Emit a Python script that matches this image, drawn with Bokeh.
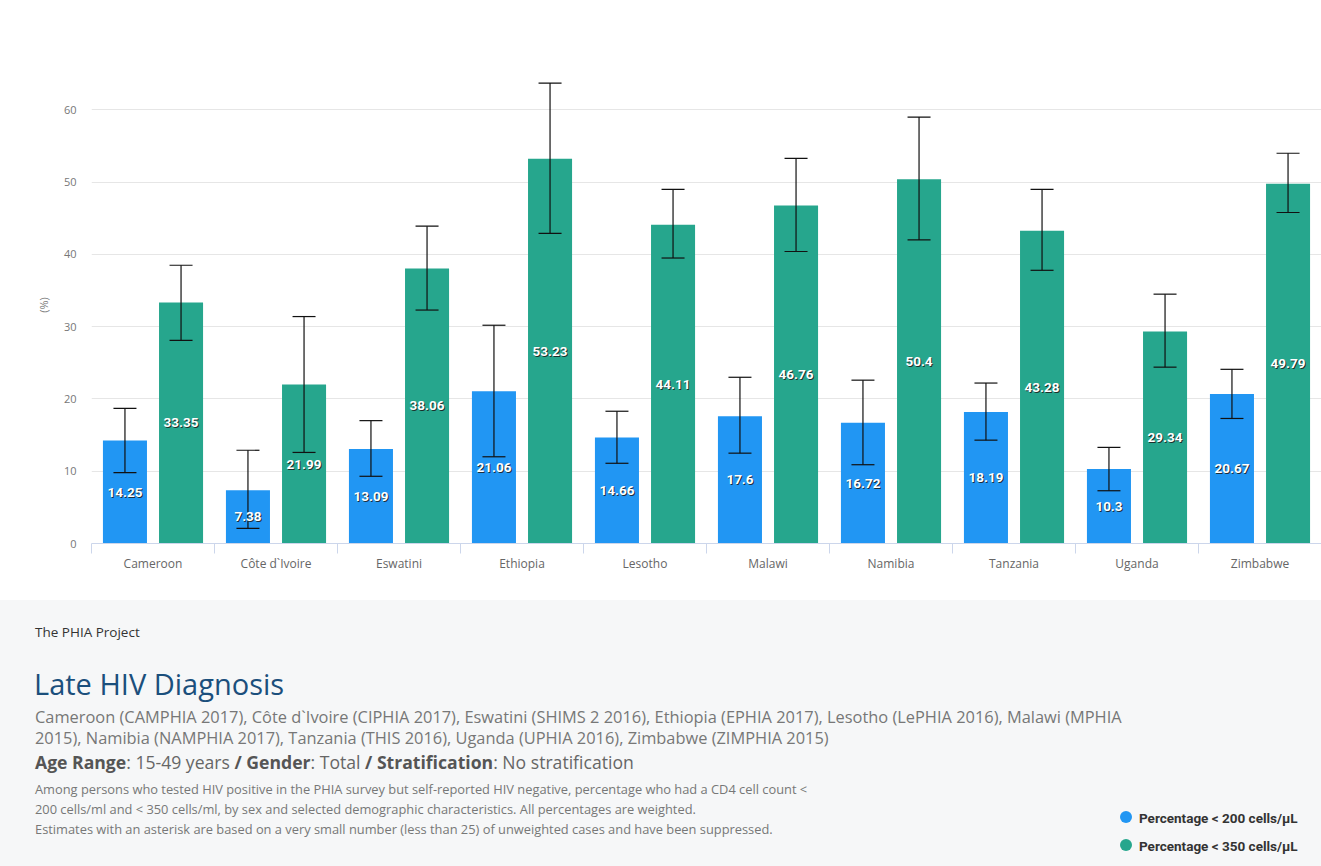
from bokeh.plotting import figure
from bokeh.models import (ColumnDataSource, Range1d, FixedTicker, Whisker, TeeHead, Div)
from bokeh.layouts import column
from bokeh.core.properties import value
from bokeh.embed import file_html
from bokeh.resources import INLINE

# ---------------- data ----------------
countries = ["Cameroon", "Côte d`Ivoire", "Eswatini", "Ethiopia", "Lesotho",
             "Malawi", "Namibia", "Tanzania", "Uganda", "Zimbabwe"]
pct200 = [14.25, 7.38, 13.09, 21.06, 14.66, 17.6, 16.72, 18.19, 10.3, 20.67]
pct350 = [33.35, 21.99, 38.06, 53.23, 44.11, 46.76, 50.4, 43.28, 29.34, 49.79]
lo200 = [9.8, 2.1, 9.3, 12.0, 11.1, 12.5, 10.9, 14.3, 7.3, 17.3]
hi200 = [18.7, 12.9, 17.0, 30.2, 18.3, 23.0, 22.6, 22.2, 13.3, 24.1]
lo350 = [28.1, 12.6, 32.3, 42.9, 39.5, 40.4, 42.0, 37.8, 24.4, 45.8]
hi350 = [38.5, 31.4, 43.9, 63.7, 49.0, 53.3, 59.0, 49.0, 34.5, 54.0]
y_ticks = [0, 10, 20, 30, 40, 50, 60]
series_names = ["Percentage < 200 cells/μL", "Percentage < 350 cells/μL"]

title_text = "Late HIV Diagnosis"
subtitle_text = ("Cameroon (CAMPHIA 2017), Côte d`Ivoire (CIPHIA 2017), Eswatini (SHIMS 2 2016), "
                 "Ethiopia (EPHIA 2017), Lesotho (LePHIA 2016), Malawi (MPHIA<br>"
                 "2015), Namibia (NAMPHIA 2017), Tanzania (THIS 2016), Uganda (UPHIA 2016), "
                 "Zimbabwe (ZIMPHIA 2015)")
desc_lines = [
    "Among persons who tested HIV positive in the PHIA survey but self-reported HIV negative, "
    "percentage who had a CD4 cell count &lt;",
    "200 cells/ml and &lt; 350 cells/ml, by sex and selected demographic characteristics. "
    "All percentages are weighted.",
    "Estimates with an asterisk are based on a very small number (less than 25) of unweighted "
    "cases and have been suppressed.",
]

BLUE = "#2196f3"
GREEN = "#26a68d"
PANEL = "#f6f7f8"
FONT = "Open Sans"

n = len(countries)
idx = list(range(n))
off = 0.228
bw = 0.358

src = ColumnDataSource(dict(
    x200=[i - off for i in idx], x350=[i + off for i in idx],
    v200=pct200, v350=pct350,
    lo200=lo200, hi200=hi200, lo350=lo350, hi350=hi350,
    m200=[v / 2 for v in pct200], m350=[v / 2 for v in pct350],
    t200=[f"{v:g}" for v in pct200], t350=[f"{v:g}" for v in pct350],
))

FL, FT, FW, FH = 91, 66, 1230, 477
p = figure(frame_width=FW, frame_height=FH,
           x_range=Range1d(-0.5, n - 0.5), y_range=Range1d(0, 66),
           output_backend="svg", toolbar_location=None,
           min_border_left=FL, min_border_right=0, min_border_top=FT,
           min_border_bottom=600 - FT - FH)
p.outline_line_color = None
p.background_fill_color = "white"
p.border_fill_color = "white"

p.vbar(x="x200", top="v200", width=bw, source=src, fill_color=BLUE, line_color=None,
       legend_label=series_names[0])
p.vbar(x="x350", top="v350", width=bw, source=src, fill_color=GREEN, line_color=None,
       legend_label=series_names[1])
p.legend.visible = False

for base, lo, hi in (("x200", "lo200", "hi200"), ("x350", "lo350", "hi350")):
    w = Whisker(source=src, base=base, lower=lo, upper=hi, line_color="#111", line_width=1.2,
                upper_head=TeeHead(size=23, line_color="#111", line_width=1.2),
                lower_head=TeeHead(size=23, line_color="#111", line_width=1.2),
                level="annotation")
    p.add_layout(w)

for xc, yc, tc in (("x200", "m200", "t200"), ("x350", "m350", "t350")):
    sh = p.text(x=xc, y=yc, text=tc, source=src, text_color="#1a1a1a", text_alpha=0.85,
                text_font=value("Roboto"), text_font_style="bold",
                text_font_size="13.5px", text_align="center", text_baseline="middle",
                x_offset=1, y_offset=1)
    sh.level = "overlay"
    t = p.text(x=xc, y=yc, text=tc, source=src, text_color="white",
               text_font=value("Roboto"), text_font_style="bold",
               text_font_size="13.5px", text_align="center", text_baseline="middle")
    t.level = "overlay"

# x axis
xa = p.xaxis[0]
xa.ticker = FixedTicker(ticks=idx, minor_ticks=[i - 0.5 for i in range(n + 1)])
xa.major_label_overrides = {i: c for i, c in enumerate(countries)}
xa.major_tick_line_color = None
xa.major_tick_out = 0
xa.major_tick_in = 0
xa.minor_tick_line_color = "#ccd6eb"
xa.minor_tick_out = 10
xa.minor_tick_in = 0
xa.axis_line_color = "#ccd6eb"
xa.major_label_text_font = FONT
xa.major_label_text_font_size = "12px"
xa.major_label_text_color = "#666666"
xa.major_label_standoff = 1

# y axis
ya = p.yaxis[0]
ya.ticker = FixedTicker(ticks=y_ticks)
ya.axis_line_color = None
ya.major_tick_line_color = None
ya.minor_tick_line_color = None
ya.major_tick_out = 0
ya.major_tick_in = 0
ya.major_label_text_font = FONT
ya.major_label_text_font_size = "11px"
ya.major_label_text_color = "#777777"
ya.major_label_standoff = 15
ya.axis_label = "(%)"
ya.axis_label_text_font = FONT
ya.axis_label_text_font_size = "11px"
ya.axis_label_text_font_style = "normal"
ya.axis_label_text_color = "#777777"
ya.axis_label_standoff = 10

p.xgrid.grid_line_color = None
p.ygrid.grid_line_color = "#e6e6e6"
p.ygrid.ticker = FixedTicker(ticks=y_ticks)

# ---------------- bottom panel (HTML) ----------------
def box(top, left, inner, style=""):
    return (f'<div style="position:absolute;left:{left}px;top:{top}px;white-space:nowrap;'
            f'{style}">{inner}</div>')

parts = []
parts.append(box(24, 35, "The PHIA Project", "font-size:13.5px;line-height:16px;color:#333;"))
parts.append(box(66, 34, title_text,
                 "font-size:29px;line-height:36px;color:#1b4f7c;"))
parts.append(box(106, 35, subtitle_text,
                 "font-size:16.4px;line-height:21px;color:#777;"))
parts.append(box(150, 35,
                 '<b style="color:#555">Age Range</b>: 15-49 years '
                 '<b style="color:#555">/ Gender</b>: Total '
                 '<b style="color:#555">/ Stratification</b>: No stratification',
                 "font-size:17.6px;line-height:24px;color:#666;"))
parts.append(box(179, 35, "<br>".join(desc_lines),
                 "font-size:12.85px;line-height:20px;color:#777;"))
legend_html = ""
for i, (nm, col) in enumerate(zip(series_names, [BLUE, GREEN])):
    legend_html += (
        f'<div style="position:absolute;left:0;top:{i * 28}px;white-space:nowrap;'
        f'height:18px;line-height:18px;">'
        f'<span style="display:inline-block;width:12px;height:12px;border-radius:6px;'
        f'background:{col};vertical-align:middle;margin-right:7px;margin-top:-2px"></span>'
        f'<span style="font-family:Roboto;font-weight:bold;font-size:13.5px;color:#333;'
        f'vertical-align:middle">{nm.replace("<", "&lt;")}</span></div>')
parts.append(box(208, 1120, legend_html, "width:200px;height:60px;"))

html = (f'<div style="position:relative;width:1321px;height:266px;background:{PANEL};'
        f'font-family:\'Open Sans\';margin:0;padding:0;">' + "".join(parts) + "</div>")
panel = Div(text=html, width=1321, height=266, margin=(0, 0, 0, 0))

layout = column(p, panel, spacing=0)
open("out.html", "w").write(file_html(layout, INLINE))
